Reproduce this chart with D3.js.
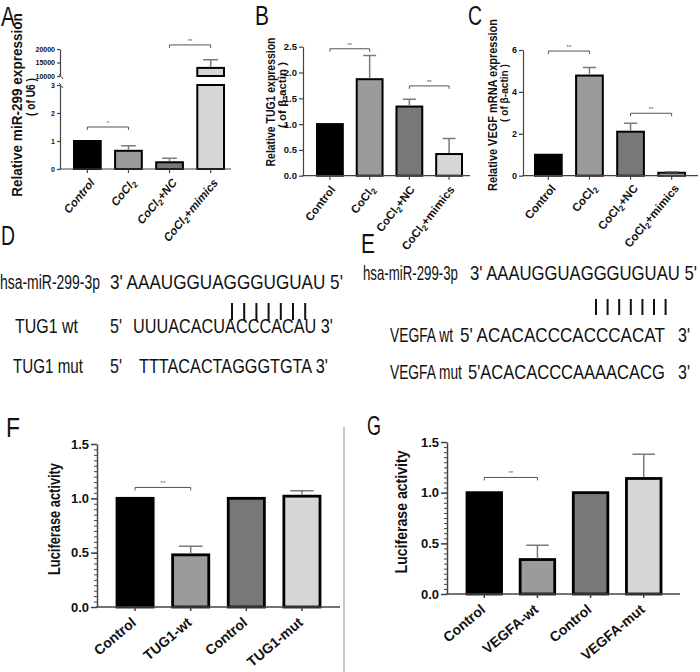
<!DOCTYPE html>
<html>
<head>
<meta charset="utf-8">
<script src="https://cdn.jsdelivr.net/npm/d3@7"></script>
<style>
  body { margin: 0; background: #fff; }
  svg { display: block; font-family: "Liberation Sans", Arial, sans-serif; }
</style>
</head>
<body>
<svg id="fig" width="700" height="672"></svg>
<script>
// Panel A - miR-299 (broken axis)
const groupsA = ["Control", "CoCl2", "CoCl2+NC", "CoCl2+mimics"];
const meanA = [1, 0.65, 0.24, 13000];
const sdA = [0, 0.18, 0.14, 3000];
const ticksALow = [0, 1, 2, 3];
const ticksAHigh = [10000, 15000, 20000];
const sigA = [[0, 1, 1.5, "*"], [2, 3, 21500, "**"]];

// Panel B - TUG1
const groupsB = ["Control", "CoCl2", "CoCl2+NC", "CoCl2+mimics"];
const meanB = [1, 1.87, 1.34, 0.42];
const sdB = [0, 0.46, 0.14, 0.3];
const ticksB = [0, 0.5, 1, 1.5, 2, 2.5];
const sigB = [[0, 1, 2.46, "**"], [2, 3, 1.74, "**"]];

// Panel C - VEGF
const groupsC = ["Control", "CoCl2", "CoCl2+NC", "CoCl2+mimics"];
const meanC = [1, 4.78, 2.1, 0.14];
const sdC = [0, 0.38, 0.4, 0.05];
const ticksC = [0, 2, 4, 6];
const sigC = [[0, 1, 5.95, "**"], [2, 3, 2.98, "**"]];

// Panel F / G - luciferase
const groupsF = ["Control", "TUG1-wt", "Control", "TUG1-mut"];
const meanF = [1, 0.48, 1, 1.02];
const sdF = [0, 0.08, 0, 0.05];
const sigF = [[0, 1, 1.1, "**"]];

const groupsG = ["Control", "VEGFA-wt", "Control", "VEGFA-mut"];
const meanG = [1, 0.34, 1, 1.14];
const sdG = [0, 0.14, 0, 0.24];
const sigG = [[0, 1, 1.15, "**"]];

const ticksLuc = [0, 0.5, 1, 1.5];

// Panels D / E - sequences
const seqD = ["hsa-miR-299-3p", "3' AAAUGGUAGGGUGUAU 5'", "TUG1 wt", "5'", "UUUACACUACCCACAU 3'", "TUG1 mut", "5'", "TTTACACTAGGGTGTA 3'"];
const seqE = ["hsa-miR-299-3p", "3' AAAUGGUAGGGUGUAU 5'", "VEGFA wt", "5' ACACACCCACCCACAT", "3'", "VEGFA mut", "5'ACACACCCAAAACACG", "3'"];
const pairCount = 7;

const fills = ["#000000", "#9b9b9b", "#787878", "#d6d6d6"];
const axisColor = "#444";
const svg = d3.select("#fig");

// squeeze a text horizontally (along its own direction) to a target length
function fitText(sel, x, y, len, rot) {
  const w = sel.node().getComputedTextLength() || len;
  sel.attr("transform", `translate(${x},${y})${rot ? ` rotate(${rot})` : ""} scale(${len / w},1)`);
}

function addLabel(sel, label) {
  const m = label.match(/^CoCl2(.*)$/);
  if (m) {
    sel.append("tspan").text("CoCl");
    sel.append("tspan").attr("font-size", "0.72em").attr("dy", 2.5).text("2");
    if (m[1]) sel.append("tspan").attr("dy", -2.5).text(m[1]);
  } else {
    sel.text(label);
  }
}

function yAxis(g, y, ticks, o) {
  const ax = g
    .append("g")
    .attr("transform", `translate(${o.x0},0)`)
    .call(
      d3.axisLeft(y)
        .tickValues(ticks)
        .tickSize(o.tick)
        .tickSizeOuter(0)
        .tickFormat(o.fmt || d3.format("d"))
    )
    .attr("font-family", null);
  ax.select(".domain").attr("stroke", axisColor).attr("stroke-width", o.sw);
  ax.selectAll(".tick line").attr("stroke", axisColor).attr("stroke-width", o.sw);
  ax.selectAll(".tick text")
    .attr("font-size", o.fs)
    .attr("font-weight", "bold")
    .attr("fill", "#111")
    .attr("x", -o.tick - 2);
  return ax;
}

function minorTicks(g, y, o) {
  const ax = g
    .append("g")
    .attr("transform", `translate(${o.x0},0)`)
    .call(d3.axisLeft(y).ticks(30).tickSize(3).tickSizeOuter(0).tickFormat(""));
  ax.select(".domain").remove();
  ax.selectAll(".tick line").attr("stroke", axisColor).attr("stroke-width", 1);
}

function xAxis(g, x, labels, o) {
  const bw = x.bandwidth();
  g.append("line")
    .attr("x1", o.x0 - o.sw / 2)
    .attr("x2", o.x1)
    .attr("y1", o.y0)
    .attr("y2", o.y0)
    .attr("stroke", axisColor)
    .attr("stroke-width", o.sw);
  g.selectAll(null)
    .data(labels)
    .join("line")
    .attr("x1", (d, i) => x(i) + bw / 2)
    .attr("x2", (d, i) => x(i) + bw / 2)
    .attr("y1", o.y0)
    .attr("y2", o.y0 + 4)
    .attr("stroke", axisColor)
    .attr("stroke-width", o.sw);
  g.selectAll(null)
    .data(labels)
    .join("text")
    .attr("transform", (d, i) => `translate(${x(i) + bw / 2 + o.lx},${o.y0 + o.ly}) rotate(${o.rot})`)
    .attr("text-anchor", "end")
    .attr("font-size", o.lfs)
    .attr("font-weight", "bold")
    .attr("font-style", o.italic ? "italic" : null)
    .attr("fill", "#111")
    .each(function (d) {
      addLabel(d3.select(this), d);
    });
}

function bars(g, x, y, means, sds, o) {
  const bw = x.bandwidth();
  g.selectAll(null)
    .data(means)
    .join("rect")
    .attr("x", (d, i) => x(i))
    .attr("width", bw)
    .attr("y", (d) => y(d))
    .attr("height", (d) => y(0) - y(d))
    .attr("fill", (d, i) => fills[i])
    .attr("stroke", "#000")
    .attr("stroke-width", o.bsw);
  errorBars(g, x, y, means, sds, o);
}

function errorBars(g, x, y, means, sds, o) {
  const bw = x.bandwidth();
  means.forEach((m, i) => {
    if (!sds[i]) return;
    const cx = x(i) + bw / 2;
    const top = y(m + sds[i]);
    g.append("path")
      .attr("d", `M${cx},${y(m) - o.bsw / 2}V${top}M${cx - bw * o.cap / 2},${top}H${cx + bw * o.cap / 2}`)
      .attr("fill", "none")
      .attr("stroke", "#7a7a7a")
      .attr("stroke-width", 1.5);
  });
}

function brackets(g, x, y, sig) {
  const bw = x.bandwidth();
  sig.forEach(([a, b, v, t]) => {
    const xa = x(a) + bw / 2;
    const xb = x(b) + bw / 2;
    const yy = y(v);
    g.append("path")
      .attr("d", `M${xa},${yy + 3}V${yy}H${xb}V${yy + 3}`)
      .attr("fill", "none")
      .attr("stroke", "#555")
      .attr("stroke-width", 1);
    g.append("text")
      .attr("x", (xa + xb) / 2)
      .attr("y", yy - 2)
      .attr("text-anchor", "middle")
      .attr("font-size", 6)
      .attr("fill", "#555")
      .text(t);
  });
}

function yTitle(lines) {
  lines.forEach((l) => {
    const t = svg.append("text")
      .attr("text-anchor", "middle")
      .attr("font-size", l.fs)
      .attr("font-weight", l.fw || "bold")
      .attr("fill", "#111")
      .style("white-space", "pre")
      .text(l.t);
    fitText(t, l.x, l.y, l.len, -90);
  });
}

function panelLetter(t, x, y) {
  const s = svg.append("text")
    .attr("font-size", 28)
    .attr("fill", "#111")
    .text(t);
  fitText(s, x, y, 14);
}

function band(n, r) {
  return d3.scaleBand().domain(d3.range(n)).range(r).paddingInner(0.35);
}

// ---------- Panel A ----------
{
  const g = svg.append("g");
  const yLow = d3.scaleLinear().domain([0, 3]).range([169, 85]);
  const yHigh = d3.scaleLinear().domain([10000, 20000]).range([76, 49]);
  const yA = (v) => (v <= 3 ? yLow(v) : yHigh(v));
  const x = band(meanA.length, [74, 224]);
  const bw = x.bandwidth();

  yAxis(g, yLow, ticksALow, { x0: 60, tick: 3, sw: 1.2, fs: 7 });
  yAxis(g, yHigh, ticksAHigh, { x0: 60, tick: 3, sw: 1.2, fs: 7 });
  // break marks
  [yHigh(10000), yLow(3)].forEach((yy) => {
    g.append("path")
      .attr("d", `M${59},${yy - 2}L${63},${yy + 3}`)
      .attr("stroke", axisColor)
      .attr("stroke-width", 1);
  });

  meanA.forEach((m, i) => {
    const segs = m <= 3 ? [[0, m, yLow]] : [[0, 3, yLow], [10000, m, yHigh]];
    segs.forEach(([lo, hi, sc]) => {
      g.append("rect")
        .attr("x", x(i))
        .attr("width", bw)
        .attr("y", sc(hi))
        .attr("height", sc(lo) - sc(hi))
        .attr("fill", fills[i])
        .attr("stroke", "#000")
        .attr("stroke-width", 2);
    });
  });
  // white gap over the broken bar
  g.append("rect")
    .attr("x", x(3) - 2)
    .attr("width", bw + 4)
    .attr("y", yHigh(10000) + 1)
    .attr("height", yLow(3) - yHigh(10000) - 2)
    .attr("fill", "#fff");
  errorBars(g, x, yA, meanA, sdA, { bsw: 2, cap: 0.55 });
  brackets(g, x, yA, sigA);
  xAxis(g, x, groupsA, { x0: 60, x1: 231, y0: 169, sw: 1.2, lx: 8, ly: 14, rot: -50, lfs: 11.5, italic: true });
  yTitle([
    { t: "Relative miR-299 expression", x: 22, y: 105, fs: 14, len: 184 },
    { t: "( of U6 )", x: 35, y: 97, fs: 13, len: 38 },
  ]);
  panelLetter("A", 1, 26);
}

// ---------- Panel B ----------
{
  const g = svg.append("g");
  const y = d3.scaleLinear().domain([0, 2.5]).range([175.7, 46.7]);
  const x = band(meanB.length, [317, 462]);
  yAxis(g, y, ticksB, { x0: 303, tick: 4, sw: 1.2, fs: 9.5, fmt: d3.format(".1f") });
  bars(g, x, y, meanB, sdB, { bsw: 2, cap: 0.5 });
  brackets(g, x, y, sigB);
  xAxis(g, x, groupsB, { x0: 303, x1: 470, y0: 175.7, sw: 1.2, lx: 6, ly: 14, rot: -52, lfs: 11.5 });
  yTitle([
    { t: "Relative TUG1 expression", x: 275, y: 102, fs: 12, len: 129 },
    { t: "( of β-actin )", x: 286, y: 95, fs: 11, len: 66 },
  ]);
  panelLetter("B", 255, 25);
}

// ---------- Panel C ----------
{
  const g = svg.append("g");
  const y = d3.scaleLinear().domain([0, 6]).range([175.7, 50]);
  const x = band(meanC.length, [535, 685]);
  yAxis(g, y, ticksC, { x0: 523, tick: 4, sw: 1.2, fs: 9 });
  bars(g, x, y, meanC, sdC, { bsw: 2, cap: 0.5 });
  brackets(g, x, y, sigC);
  xAxis(g, x, groupsC, { x0: 523, x1: 698, y0: 175.7, sw: 1.2, lx: 8, ly: 13, rot: -50, lfs: 11.5 });
  yTitle([
    { t: "Relative VEGF mRNA expression", x: 497, y: 105, fs: 12, len: 172 },
    { t: "( of β-actin )", x: 508, y: 93, fs: 11, len: 58 },
  ]);
  panelLetter("C", 468, 25);
}

// ---------- Panels D / E ----------
function seqText(x, y, t, len) {
  const s = svg.append("text")
    .attr("font-size", 20)
    .attr("fill", "#111")
    .text(t);
  fitText(s, x, y, len);
}

function pairBars(x0, step, y1, y2) {
  svg.append("g")
    .selectAll("line")
    .data(d3.range(pairCount))
    .join("line")
    .attr("x1", (d) => x0 + d * step)
    .attr("x2", (d) => x0 + d * step)
    .attr("y1", y1)
    .attr("y2", y2)
    .attr("stroke", "#111")
    .attr("stroke-width", 2);
}

panelLetter("D", 1, 245);
seqText(0, 289, seqD[0], 100);
seqText(110, 289, seqD[1], 233);
pairBars(232, 12.2, 303, 320);
seqText(15, 333, seqD[2], 63);
seqText(110, 333, seqD[3], 12);
seqText(133, 333, seqD[4], 200);
seqText(13, 373, seqD[5], 70);
seqText(110, 373, seqD[6], 12);
seqText(139, 373, seqD[7], 189);

panelLetter("E", 361, 253);
seqText(363, 280, seqE[0], 95);
seqText(470, 280, seqE[1], 227);
pairBars(596, 11.6, 299, 315);
seqText(390, 342, seqE[2], 63);
seqText(460, 342, seqE[3], 205);
seqText(678, 342, seqE[4], 12);
seqText(390, 379, seqE[5], 72);
seqText(468, 379, seqE[6], 197);
seqText(678, 379, seqE[7], 12);

// ---------- Panel F ----------
{
  const g = svg.append("g");
  const y = d3.scaleLinear().domain([0, 1.5]).range([607, 444]);
  const x = band(meanF.length, [117, 320]);
  minorTicks(g, y, { x0: 97 });
  yAxis(g, y, ticksLuc, { x0: 97, tick: 6, sw: 1.5, fs: 13, fmt: d3.format(".1f") });
  bars(g, x, y, meanF, sdF, { bsw: 2.8, cap: 0.65 });
  brackets(g, x, y, sigF);
  xAxis(g, x, groupsF, { x0: 97, x1: 340, y0: 607, sw: 1.5, lx: 2, ly: 17, rot: -40, lfs: 14 });
  yTitle([{ t: "Luciferase activity", x: 60, y: 519, fs: 16, len: 112 }]);
  panelLetter("F", 6, 437);
}

// separator between F and G
svg.append("line")
  .attr("x1", 344)
  .attr("x2", 344)
  .attr("y1", 427)
  .attr("y2", 672)
  .attr("stroke", "#b5b5b5")
  .attr("stroke-width", 1.5);

// ---------- Panel G ----------
{
  const g = svg.append("g");
  const y = d3.scaleLinear().domain([0, 1.5]).range([594, 442]);
  const x = band(meanG.length, [467, 661]);
  minorTicks(g, y, { x0: 447 });
  yAxis(g, y, ticksLuc, { x0: 447, tick: 6, sw: 1.5, fs: 13, fmt: d3.format(".1f") });
  bars(g, x, y, meanG, sdG, { bsw: 2.8, cap: 0.65 });
  brackets(g, x, y, sigG);
  xAxis(g, x, groupsG, { x0: 447, x1: 680, y0: 594, sw: 1.5, lx: 2, ly: 17, rot: -40, lfs: 14 });
  yTitle([{ t: "Luciferase activity", x: 407, y: 512, fs: 17, len: 123 }]);
  panelLetter("G", 367, 435);
}
</script>
</body>
</html>
